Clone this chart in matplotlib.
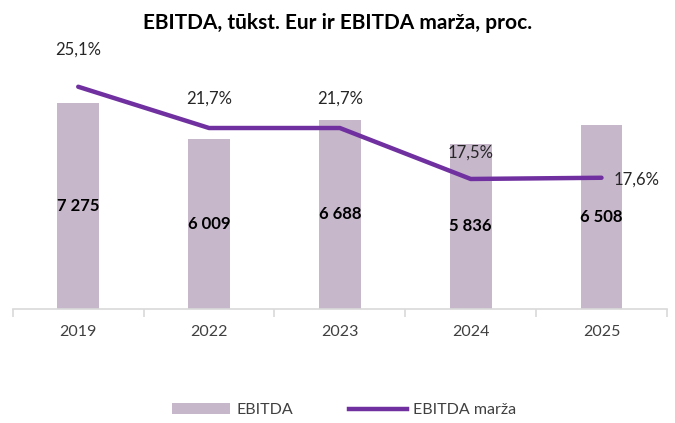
import matplotlib.pyplot as plt
from matplotlib.lines import Line2D
from matplotlib.patches import Patch

plt.rcParams['font.family'] = ['Lato', 'DejaVu Sans']

# duomenys
metai = ['2019', '2022', '2023', '2024', '2025']
ebitda = [7275, 6009, 6688, 5836, 6508]
marza = [25.1, 21.7, 21.7, 17.5, 17.6]
ebitda_txt = ['7 275', '6 009', '6 688', '5 836', '6 508']
marza_txt = ['25,1%', '21,7%', '21,7%', '17,5%', '17,6%']

bar_spalva = '#C6B7CB'
linijos_spalva = '#7030A0'
tekstas = '#262626'

fig = plt.figure(figsize=(6.75, 4.23), dpi=100)
ax = fig.add_axes([0.019, 0.27, 0.969, 0.588])
x = list(range(len(metai)))

ax.bar(x, ebitda, width=0.32, color=bar_spalva, zorder=1)
ax.set_xlim(-0.5, len(metai) - 0.5)
ax.set_ylim(0, 8800)
for i, v in enumerate(ebitda):
    ax.text(i, v / 2, ebitda_txt[i], ha='center', va='center', fontsize=12,
            fontweight='bold', color='black', zorder=5)

ax2 = ax.twinx()
ax2.plot(x, marza, color=linijos_spalva, lw=3.2, solid_capstyle='round', zorder=3)
ax2.set_ylim(6.8, 27.3)

# procentu etiketes
poslinkiai = [(0, 26.5), (0, 21.5), (0, 21.5), (0, 19), (25, -1)]
for i, v in enumerate(marza):
    dx, dy = poslinkiai[i]
    ax2.annotate(marza_txt[i], (i, v), xytext=(dx, dy), textcoords='offset points',
                 ha='center', va='center', fontsize=12, color=tekstas)

for a in (ax, ax2):
    for s in ('top', 'right', 'left'):
        a.spines[s].set_visible(False)
    a.set_yticks([])
ax.spines['bottom'].set_color('#D9D9D9')
ax.spines['bottom'].set_linewidth(1.2)
ax2.spines['bottom'].set_visible(False)

ax.set_xticks([i - 0.5 for i in range(len(metai) + 1)], minor=False)
ax.set_xticklabels([''] * (len(metai) + 1))
ax.tick_params(axis='x', length=6, color='#D9D9D9', width=1.2)
ax.set_xticks(x, minor=True)
ax.set_xticklabels(metai, minor=True)
ax.tick_params(axis='x', which='minor', length=0, pad=12, labelsize=11.5, labelcolor='#404040')

fig.text(0.5, 0.945, 'EBITDA, tūkst. Eur ir EBITDA marža, proc.', ha='center', va='center',
         fontsize=15, fontweight='bold', color='black')

rankenos = [Patch(facecolor=bar_spalva, edgecolor='none'),
            Line2D([0], [0], color=linijos_spalva, lw=3.2)]
fig.legend(rankenos, ['EBITDA', 'EBITDA marža'], loc='center', bbox_to_anchor=(0.51, 0.03),
           ncol=2, frameon=False, fontsize=11.5, handlelength=3.6, handletextpad=0.4,
           columnspacing=3.5, labelcolor='#404040')

fig.savefig('out.png', dpi=100)
